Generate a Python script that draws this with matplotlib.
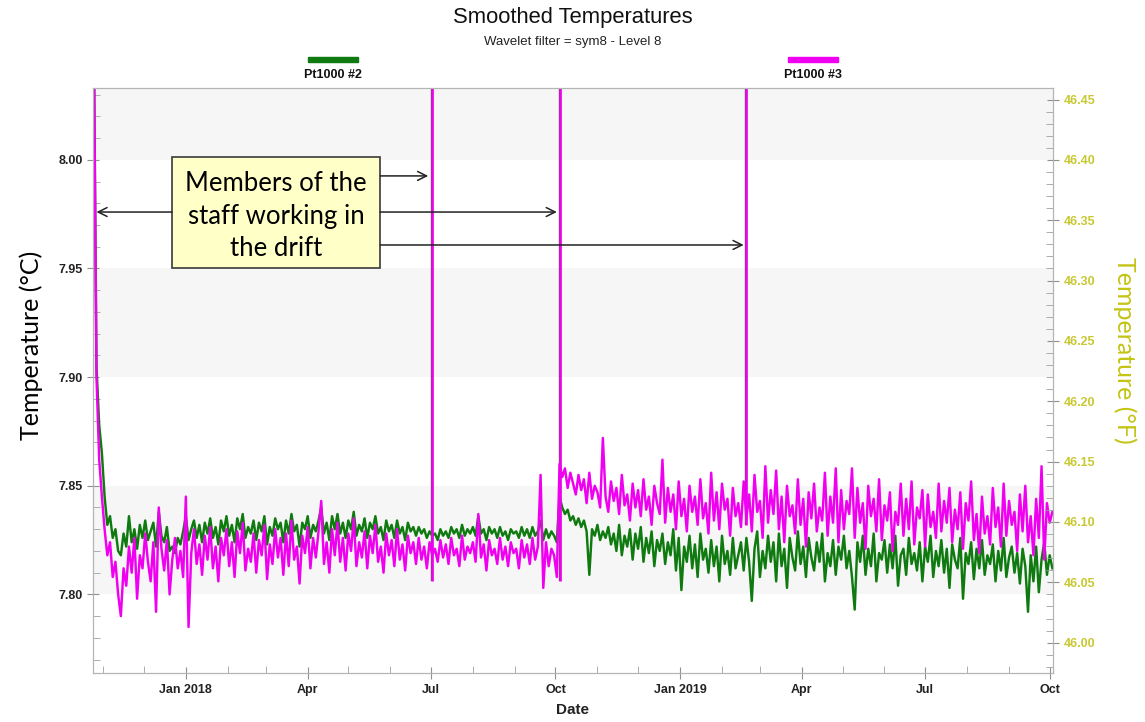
import numpy as np
import pandas as pd
import matplotlib
matplotlib.use("Agg")
import matplotlib.pyplot as plt
import matplotlib.dates as mdates
from matplotlib.patches import Rectangle
from matplotlib.ticker import MultipleLocator, FuncFormatter

# smoothed temperatures (deg C), one value every 2 days from 2017-10-25
pt3 = [
    8.060, 7.900, 7.862, 7.845, 7.830, 7.818, 7.824, 7.808, 7.815, 7.800,
    7.790, 7.812, 7.804, 7.822, 7.810, 7.826, 7.798, 7.818, 7.812, 7.828,
    7.815, 7.806, 7.824, 7.792, 7.840, 7.821, 7.811, 7.825, 7.800, 7.816,
    7.826, 7.812, 7.820, 7.808, 7.845, 7.785, 7.819, 7.830, 7.814, 7.823,
    7.809, 7.827, 7.816, 7.831, 7.812, 7.822, 7.806, 7.826, 7.818, 7.830,
    7.813, 7.824, 7.808, 7.829, 7.819, 7.833, 7.811, 7.821, 7.815, 7.828,
    7.810, 7.825, 7.818, 7.832, 7.807, 7.823, 7.814, 7.830, 7.817, 7.826,
    7.809, 7.828, 7.813, 7.834, 7.816, 7.822, 7.805, 7.827, 7.819, 7.831,
    7.812, 7.826, 7.817, 7.829, 7.843, 7.814, 7.824, 7.810, 7.830, 7.818,
    7.833, 7.815, 7.826, 7.811, 7.828, 7.820, 7.835, 7.813, 7.824, 7.817,
    7.829, 7.812, 7.827, 7.819, 7.832, 7.815, 7.822, 7.810, 7.828, 7.818,
    7.825, 7.813, 7.830, 7.816, 7.823, 7.811, 7.827, 7.819, 7.824, 7.814,
    7.826, 7.816, 7.822, 7.812, 7.824, 7.818, 7.821, 7.815, 7.825, 7.817,
    7.823, 7.814, 7.826, 7.818, 7.821, 7.813, 7.827, 7.816, 7.822, 7.819,
    7.824, 7.815, 7.837, 7.817, 7.823, 7.811, 7.825, 7.818, 7.821, 7.814,
    7.826, 7.816, 7.822, 7.813, 7.824, 7.819, 7.821, 7.812, 7.825, 7.817,
    7.823, 7.814, 7.826, 7.816, 7.822, 7.855, 7.803, 7.824, 7.813, 7.821,
    7.818, 7.808, 7.860, 7.854, 7.858, 7.849, 7.856, 7.851, 7.846, 7.855,
    7.848, 7.853, 7.842, 7.856, 7.844, 7.850, 7.847, 7.840, 7.872, 7.845,
    7.838, 7.852, 7.843, 7.849, 7.837, 7.855, 7.841, 7.846, 7.834, 7.851,
    7.840, 7.848, 7.836, 7.853, 7.839, 7.845, 7.832, 7.850, 7.842, 7.837,
    7.862, 7.833, 7.849, 7.838, 7.846, 7.830, 7.852, 7.836, 7.844, 7.829,
    7.850, 7.838, 7.845, 7.832, 7.853, 7.835, 7.842, 7.828, 7.856, 7.834,
    7.847, 7.830, 7.851, 7.839, 7.844, 7.827, 7.849, 7.836, 7.842, 7.831,
    7.852, 7.835, 7.846, 7.829, 7.855, 7.838, 7.843, 7.826, 7.859, 7.833,
    7.848, 7.837, 7.857, 7.830, 7.845, 7.824, 7.850, 7.836, 7.841, 7.828,
    7.853, 7.832, 7.844, 7.822, 7.847, 7.835, 7.851, 7.829, 7.840, 7.834,
    7.856, 7.827, 7.845, 7.833, 7.858, 7.824, 7.848, 7.830, 7.843, 7.837,
    7.858, 7.826, 7.849, 7.833, 7.842, 7.821, 7.850, 7.836, 7.844, 7.829,
    7.853, 7.825, 7.841, 7.834, 7.847, 7.820, 7.838, 7.832, 7.851, 7.827,
    7.844, 7.830, 7.852, 7.823, 7.840, 7.835, 7.848, 7.822, 7.846, 7.831,
    7.838, 7.826, 7.851, 7.829, 7.843, 7.833, 7.849, 7.824, 7.839, 7.830,
    7.847, 7.821, 7.842, 7.834, 7.852, 7.825, 7.837, 7.819, 7.845, 7.828,
    7.836, 7.823, 7.849, 7.831, 7.840, 7.822, 7.851, 7.827, 7.843, 7.832,
    7.838, 7.820, 7.846, 7.829, 7.850, 7.824, 7.836, 7.818, 7.844, 7.826,
    7.859, 7.816, 7.842, 7.833, 7.838,
]
pt2 = [
    8.060, 7.905, 7.878, 7.865, 7.845, 7.832, 7.836, 7.826, 7.830, 7.820,
    7.818, 7.828, 7.822, 7.836, 7.824, 7.830, 7.821, 7.832, 7.826, 7.834,
    7.825, 7.829, 7.833, 7.822, 7.838, 7.827, 7.824, 7.831, 7.820, 7.822,
    7.819, 7.826, 7.823, 7.829, 7.836, 7.825, 7.830, 7.834, 7.826, 7.832,
    7.824, 7.833, 7.828, 7.835, 7.826, 7.831, 7.823, 7.834, 7.829, 7.836,
    7.827, 7.832, 7.824, 7.835, 7.830, 7.837, 7.826, 7.831, 7.828, 7.834,
    7.825, 7.833, 7.829, 7.836, 7.823, 7.831, 7.827, 7.835, 7.830, 7.833,
    7.824, 7.834, 7.828, 7.837, 7.829, 7.832, 7.822, 7.833, 7.830, 7.836,
    7.826, 7.832, 7.829, 7.834, 7.840, 7.828, 7.833, 7.825, 7.836, 7.830,
    7.837, 7.828, 7.833, 7.826, 7.834, 7.830, 7.838, 7.827, 7.832, 7.829,
    7.835, 7.826, 7.833, 7.830, 7.836, 7.828, 7.831, 7.825, 7.834, 7.829,
    7.832, 7.826, 7.834, 7.828, 7.831, 7.825, 7.833, 7.829, 7.831, 7.827,
    7.831, 7.828, 7.830, 7.826, 7.829, 7.827, 7.828, 7.825, 7.830, 7.827,
    7.829, 7.826, 7.831, 7.828, 7.830, 7.826, 7.832, 7.827, 7.830, 7.828,
    7.831, 7.827, 7.836, 7.828, 7.830, 7.825, 7.831, 7.828, 7.830, 7.826,
    7.831, 7.827, 7.829, 7.825, 7.830, 7.828, 7.829, 7.826, 7.831, 7.827,
    7.830, 7.826, 7.831, 7.827, 7.829, 7.834, 7.825, 7.830, 7.826, 7.829,
    7.827, 7.824, 7.845, 7.840, 7.837, 7.839, 7.834, 7.836, 7.832, 7.835,
    7.831, 7.834, 7.829, 7.809, 7.830, 7.827, 7.832, 7.825, 7.829, 7.826,
    7.831, 7.823, 7.828, 7.820, 7.832, 7.818, 7.827, 7.822, 7.830, 7.816,
    7.828, 7.821, 7.831, 7.815, 7.826, 7.819, 7.829, 7.813, 7.825, 7.820,
    7.828, 7.814, 7.824, 7.818, 7.830, 7.811, 7.826, 7.802, 7.822, 7.815,
    7.827, 7.812, 7.823, 7.808, 7.828, 7.816, 7.821, 7.810, 7.825, 7.813,
    7.822, 7.806, 7.827, 7.814, 7.820, 7.809, 7.826, 7.812, 7.818, 7.824,
    7.811, 7.826, 7.815, 7.797, 7.821, 7.829, 7.808, 7.820, 7.812, 7.827,
    7.815, 7.824, 7.806, 7.828, 7.813, 7.821, 7.803, 7.826, 7.817, 7.811,
    7.829, 7.814, 7.822, 7.808, 7.826, 7.817, 7.811, 7.824, 7.815, 7.828,
    7.806, 7.819, 7.813, 7.825, 7.809, 7.822, 7.816, 7.827, 7.812, 7.820,
    7.808, 7.793, 7.824, 7.815, 7.827, 7.809, 7.821, 7.813, 7.828, 7.806,
    7.819, 7.816, 7.825, 7.810, 7.823, 7.812, 7.827, 7.804, 7.818, 7.821,
    7.809, 7.826, 7.814, 7.819, 7.811, 7.824, 7.806, 7.822, 7.815, 7.827,
    7.808, 7.820, 7.813, 7.825, 7.810, 7.821, 7.803, 7.823, 7.816, 7.812,
    7.826, 7.798, 7.819, 7.814, 7.824, 7.807, 7.821, 7.812, 7.825, 7.809,
    7.818, 7.814, 7.823, 7.806, 7.820, 7.811, 7.826, 7.808, 7.817, 7.822,
    7.810, 7.819, 7.805, 7.821, 7.813, 7.792, 7.818, 7.806, 7.822, 7.801,
    7.816, 7.824, 7.809, 7.818, 7.812,
]
series_names = ["Pt1000 #2", "Pt1000 #3"]
series_colors = ["#0f7a0f", "#f000f0"]

# short disturbances (staff in the drift)
spike_dates = ["2018-07-02", "2018-10-04", "2019-02-19"]
spike_low = [7.806, 7.806, 7.832]
spike_high = [8.10, 8.10, 8.10]
arrow_targets = ["2017-10-27", "2018-06-29", "2018-10-02", "2019-02-17"]

bands = [(7.80, 7.85), (7.90, 7.95), (8.00, 8.05)]

dates = pd.date_range("2017-10-25", periods=len(pt3), freq="2D")

fig = plt.figure(figsize=(11.45, 7.22), dpi=100)
ax = fig.add_axes([0.0815, 0.0675, 0.8382, 0.8107])

for lo, hi in bands:
    ax.axhspan(lo, hi, color="#f6f6f6", lw=0, zorder=0)

ax.plot(dates, pt2, color=series_colors[0], lw=1.75, zorder=2)
ax.vlines(pd.to_datetime(spike_dates), spike_low, spike_high, color=series_colors[0], lw=1.7, zorder=2)
ax.plot(dates, pt3, color=series_colors[1], lw=1.75, zorder=3)
ax.vlines(pd.to_datetime(spike_dates), spike_low, spike_high, color=series_colors[1], lw=1.9, zorder=3)

ax.set_ylim(7.7637, 8.0331)
ax.set_xlim(pd.Timestamp("2017-10-24 16:00"), pd.Timestamp("2019-10-03 12:00"))

ax.xaxis.set_major_locator(mdates.MonthLocator(bymonth=[1, 4, 7, 10]))
ax.xaxis.set_minor_locator(mdates.MonthLocator())
ax.xaxis.set_major_formatter(FuncFormatter(
    lambda v, p: mdates.num2date(v).strftime("%b %Y" if mdates.num2date(v).month == 1 else "%b")))
ax.yaxis.set_major_locator(MultipleLocator(0.05))
ax.yaxis.set_minor_locator(MultipleLocator(0.01))
ax.yaxis.set_major_formatter(FuncFormatter(lambda v, p: f"{v:.2f}"))

for s in ax.spines.values():
    s.set_color("#b4b4b4")
ax.tick_params(which="major", direction="inout", length=9, color="#909090", labelsize=9, pad=3)
ax.tick_params(which="minor", direction="in", length=5, color="#a0a0a0")
for lab in ax.get_xticklabels() + ax.get_yticklabels():
    lab.set_fontweight("bold")
    lab.set_fontfamily("Liberation Sans")
    lab.set_color("#222222")

# Fahrenheit axis
ax2 = ax.twinx()
c0, c1 = ax.get_ylim()
ax2.set_ylim(c0 * 1.8 + 32, c1 * 1.8 + 32)
ax2.yaxis.set_major_locator(MultipleLocator(0.05))
ax2.yaxis.set_minor_locator(MultipleLocator(0.01))
ax2.yaxis.set_major_formatter(FuncFormatter(lambda v, p: f"{v:.2f}"))
for s in ax2.spines.values():
    s.set_color("#b4b4b4")
ax2.tick_params(which="major", direction="inout", length=9, color="#909090", labelsize=9, pad=3)
ax2.tick_params(which="minor", direction="in", length=5, color="#a0a0a0")
for lab in ax2.get_yticklabels():
    lab.set_fontweight("bold")
    lab.set_fontfamily("Liberation Sans")
    lab.set_color("#c8c832")

# titles and labels
fig.text(0.5004, 0.9755, "Smoothed Temperatures", ha="center", va="center",
         fontsize=15.8, family="Liberation Sans", color="#111111")
fig.text(0.5004, 0.9418, "Wavelet filter = sym8 - Level 8", ha="center", va="center",
         fontsize=9.5, family="Liberation Sans", color="#222222")
fig.text(0.5004, 0.0165, "Date", ha="center", va="center", fontsize=11,
         fontweight="bold", family="Liberation Sans", color="#222222")
fig.text(0.027, 0.522, "Temperature (°C)", rotation=90, ha="center", va="center",
         fontsize=18, family="Lato", color="black")
fig.text(0.982, 0.515, "Temperature (°F)", rotation=-90, ha="center", va="center",
         fontsize=18, family="Lato", color="#c4c414")

# legend above the plot
for name, col, xc in zip(series_names, series_colors, [0.2908, 0.710]):
    fig.add_artist(Rectangle((xc - 0.0218, 0.9141), 0.0436, 0.0075,
                             transform=fig.transFigure, color=col))
    fig.text(xc, 0.8965, name, ha="center", va="center", fontsize=9,
             fontweight="bold", family="Liberation Sans", color="#111111")

# annotation box with arrows
ax.add_patch(Rectangle((0.082, 0.6926), 0.217, 0.1893, transform=ax.transAxes,
                       facecolor="#ffffc8", edgecolor="#3a3a3a", lw=1.2, zorder=5))
ax.text(0.1905, 0.781, "Members of the\nstaff working in\nthe drift", transform=ax.transAxes,
        ha="center", va="center", fontsize=18.5, family="Lato", linespacing=1.38, zorder=6)
starts = [(0.082, 0.788), (0.299, 0.8497), (0.299, 0.788), (0.299, 0.7317)]
for (sx, sy), tgt in zip(starts, arrow_targets):
    ax.annotate("", xy=(mdates.date2num(pd.Timestamp(tgt)), sy), xycoords=("data", "axes fraction"),
                xytext=(sx, sy), textcoords="axes fraction",
                arrowprops=dict(arrowstyle="->", color="#222222", lw=1.1,
                                shrinkA=0, shrinkB=0, mutation_scale=16), zorder=6)

fig.savefig("out.png", dpi=100)
